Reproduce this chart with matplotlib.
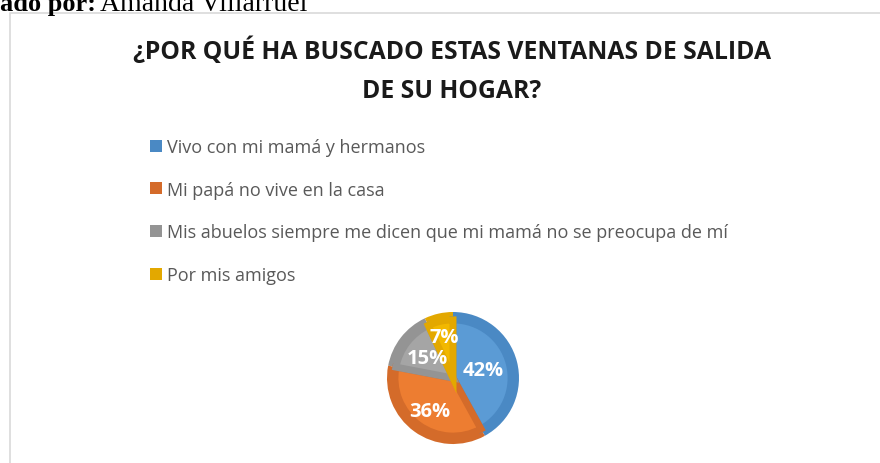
import matplotlib
matplotlib.use('Agg')
import matplotlib.pyplot as plt
from matplotlib.patches import Rectangle

# Chart data
categories = [
    'Vivo con mi mamá y hermanos',
    'Mi papá no vive en la casa',
    'Mis abuelos siempre me dicen que mi mamá no se preocupa de mí',
    'Por mis amigos',
]
percentages = [42, 36, 15, 7]
title = '¿POR QUÉ HA BUSCADO ESTAS VENTANAS DE SALIDA\nDE SU HOGAR?'

# Office-like palette: darker rim and lighter face
rim_colors = ['#4a89c4', '#d46b2a', '#949494', '#e3a800']
face_colors = ['#5b9bd5', '#ed7d31', '#a5a5a5', '#f2b800']
# where each percentage label sits, as a fraction of the radius
label_dist = [0.47, 0.61, 0.49, 0.64]

W, H = 880, 464
fig = plt.figure(figsize=(W / 100, H / 100), dpi=100)

# caption above the chart box (cut off at the top of the page)
fig.text(0 / W, 1 - 11 / H, 'ado por:', family='Liberation Serif', fontweight='bold',
         fontsize=19, color='black', ha='left', va='baseline')
fig.text(100 / W, 1 - 11 / H, 'Amanda Villarruel', family='Liberation Serif',
         fontsize=20, color='black', ha='left', va='baseline')

# chart area border
fig.patches.append(Rectangle((9.5 / W, -0.1), 1.0, 1 - 13.5 / H + 0.1, transform=fig.transFigure,
                             fill=False, edgecolor='#d9d9d9', linewidth=1.2))

fig.text(452 / W, 1 - 71 / H, title, family='Open Sans', fontweight='bold', fontsize=17.8,
         color='#1a1a1a', ha='center', va='center', linespacing=1.72)

# pie
ax = fig.add_axes([387 / W, 19 / H, 132 / W, 132 / H])
rim, _ = ax.pie(percentages, colors=rim_colors, startangle=90, counterclock=False, radius=1.0)
faces, _, pct_texts = ax.pie(percentages, colors=face_colors, startangle=90, counterclock=False,
                             radius=0.88, autopct='%1.0f%%', pctdistance=0.58,
                             wedgeprops=dict(linewidth=5))
for w, c in zip(faces, rim_colors):
    w.set_edgecolor(c)
for t, d in zip(pct_texts, label_dist):
    x, y = t.get_position()
    k = d / (0.58 * 0.88)
    t.set_position((x * k, y * k))
    t.set_color('white')
    t.set_fontweight('bold')
    t.set_fontsize(14.5)
    t.set_family('Open Sans')
ax.set_xlim(-1, 1)
ax.set_ylim(-1, 1)
ax.set_aspect('equal')

fig.legend(rim, categories, loc='upper left', bbox_to_anchor=(141 / W, 1 - 130 / H),
           frameon=False, prop={'family': 'Open Sans', 'size': 13},
           labelcolor='#595959', handlelength=0.65, handleheight=0.65,
           handletextpad=0.3, labelspacing=1.37, borderpad=0)

fig.savefig('out.png', dpi=100)
